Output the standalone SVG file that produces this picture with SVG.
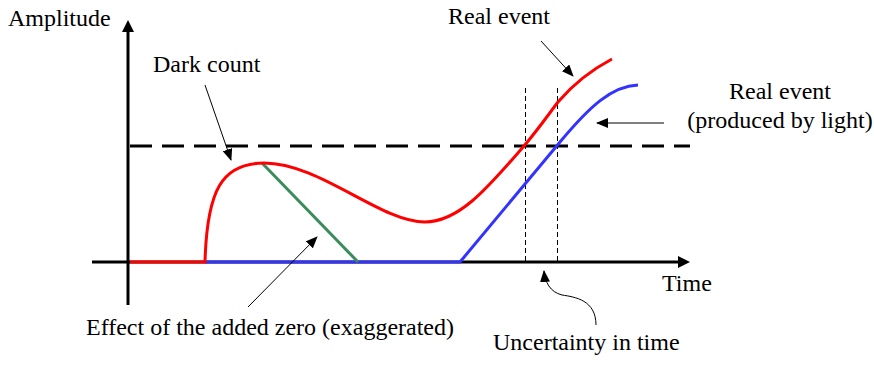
<svg xmlns="http://www.w3.org/2000/svg" width="874" height="368" viewBox="0 0 874 368">
<style>
.lbl{font-family:'Liberation Serif','Times New Roman',serif;font-size:24px;fill:#000}
.axis{stroke:#000;stroke-width:3;fill:none}
.thr{stroke:#000;stroke-width:3;stroke-dasharray:22 10;fill:none}
.vd{stroke:#000;stroke-width:1;stroke-dasharray:5 3;fill:none}
.red{stroke:#ff0000;stroke-width:3;fill:none}
.blue{stroke:#3333ff;stroke-width:3;fill:none}
.green{stroke:#3a8d5a;stroke-width:3;fill:none}
.ptr{stroke:#000;stroke-width:1;fill:none;marker-end:url(#ah)}
</style>
<defs>
<marker id="ah" markerUnits="userSpaceOnUse" markerWidth="12" markerHeight="10" refX="11" refY="5" orient="auto">
<path d="M0,0 L12,5 L0,10 z" fill="#000"/>
</marker>
<marker id="axh" markerUnits="userSpaceOnUse" markerWidth="12" markerHeight="12" refX="2" refY="6" orient="auto">
<path d="M0,0 L12,6 L0,12 z" fill="#000"/>
</marker>
</defs>
<g id="axes">
<path class="axis" d="M128,305 L128,30" marker-end="url(#axh)"/>
<path class="axis" d="M92,262 L680,262" marker-end="url(#axh)"/>
</g>
<g id="threshold">
<path class="thr" d="M130,146 L690,146"/>
<path class="vd" d="M525.5,88 L525.5,262"/>
<path class="vd" d="M557.5,88 L557.5,262"/>
</g>
<g id="blue-curve">
<path class="blue" d="M205,262 L460,262 L560,142 C590,106 612,86 638,85"/>
</g>
<g id="green-line">
<path class="green" d="M262,163 L358,262"/>
</g>
<g id="red-curve">
<path class="red" d="M130,262 L205,262 C207,190 222,163 264,163 C320,163 380,222 425,222 C460,222 490,185 524,146 C540,127 548,115 558,102 C575,82 595,68 612,59"/>
</g>
<g id="labels">
<text class="lbl" x="8" y="26">Amplitude</text>
<text class="lbl" x="153" y="72">Dark count</text>
<text class="lbl" x="448" y="24">Real event</text>
<text class="lbl" x="780" y="99" text-anchor="middle">Real event</text>
<text class="lbl" x="780" y="128" text-anchor="middle">(produced by light)</text>
<text class="lbl" x="662" y="291">Time</text>
<text class="lbl" x="493" y="350">Uncertainty in time</text>
<text class="lbl" x="86" y="335">Effect of the added zero (exaggerated)</text>
</g>
<g id="connectors">
<path class="ptr" d="M205,85 L231,160"/>
<path class="ptr" d="M248,307 L317,237"/>
<path class="ptr" d="M541,41 L573,76"/>
<path class="ptr" d="M664,123 L597,123"/>
<path class="ptr" d="M596,325 C596,300 575,297 562,295 C550,292 545,282 544,271"/>
</g>
</svg>
